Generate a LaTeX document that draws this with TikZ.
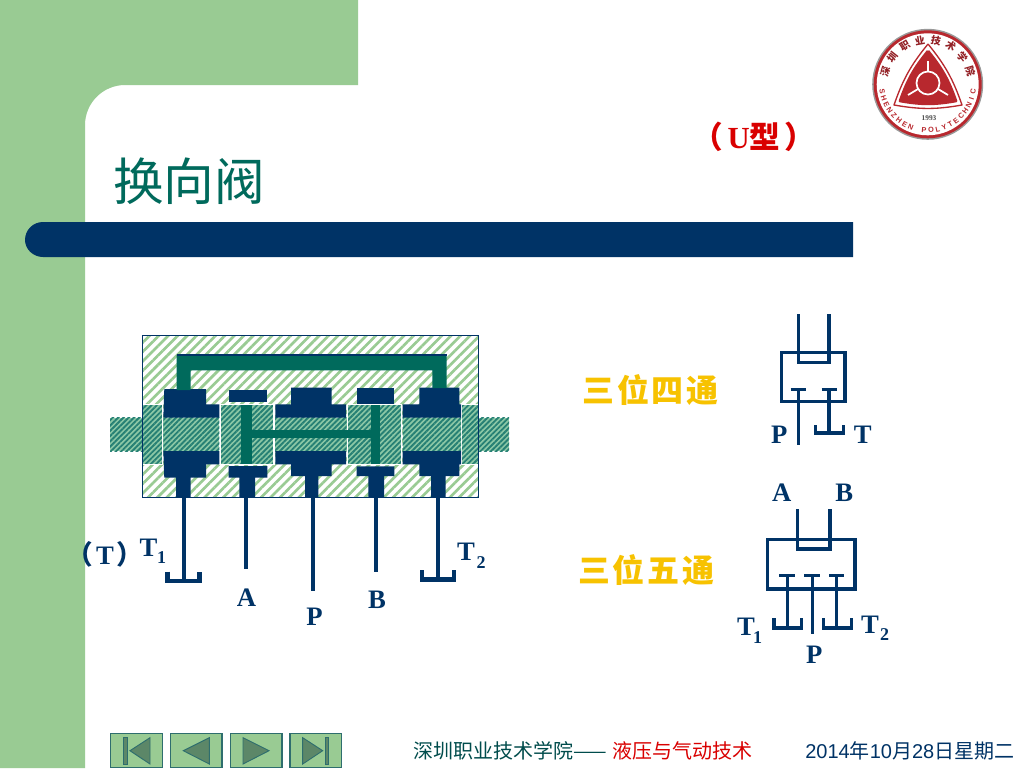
\documentclass[tikz,border=0pt]{standalone}
\usepackage{fontspec}
\setmainfont{Liberation Serif}
\newfontfamily\cjk{Noto Sans CJK SC}
\newfontfamily\arialfont{Liberation Sans}
\usetikzlibrary{calc}
\usetikzlibrary{patterns.meta}
\definecolor{slidegreen}{HTML}{99CB93}
\definecolor{navy}{HTML}{003366}
\definecolor{oilteal}{HTML}{006A5C}
\definecolor{spoolbase}{HTML}{8CC8A6}
\definecolor{goldtext}{HTML}{F7C200}
\definecolor{logored}{HTML}{B8282E}
\definecolor{navborder}{HTML}{2E6E6E}
\definecolor{navfill}{HTML}{5C8768}
\tikzset{
    bodyhatch/.style={pattern={Lines[angle=45,distance=5pt,line width=2pt]},pattern color=slidegreen},
    landhatch/.style={preaction={fill=spoolbase},pattern={Lines[angle=45,distance=2.8pt,line width=1.4pt]},pattern color=oilteal!85!white},
    chamber/.style={fill=navy,draw=none},
    oil/.style={fill=oilteal,draw=none},
    pipe/.style={draw=navy,line width=3.2pt},
    symb/.style={draw=navy,line width=2.6pt},
    lab/.style={text=navy,font=\fontsize{20}{21}\selectfont\bfseries,inner sep=0pt},
    sublab/.style={text=navy,font=\fontsize{13.5}{14}\selectfont\bfseries,inner sep=0pt},
    gold/.style={text=goldtext,font=\fontsize{24}{26}\selectfont\cjk\bfseries,inner sep=0pt},
    navbtn/.style={fill=slidegreen,draw=navborder,line width=1pt},
    navmark/.style={fill=navfill,draw=navborder,line width=.7pt},
}
\begin{document}
\begin{tikzpicture}[x=0.75pt,y=-0.75pt]
    \useasboundingbox (0,0) rectangle (1024,768);
    \fill[white] (0,0) rectangle (1024,768);

    %% slide background
    \fill[slidegreen] (0,0) -- (358,0) -- (358,85) -- (125,85) .. controls (103,85) and (85,103) .. (85,125) -- (85,768) -- (0,768) -- cycle;
    \fill[navy] (853,222) -- (853,257) -- (43,257) .. controls (33,257) and (25,249) .. (25,240) .. controls (25,230) and (33,222) .. (43,222) -- cycle;
    \node[text=oilteal,font=\fontsize{38}{40}\selectfont\cjk,inner sep=0pt] (title) at (189,181) {换向阀};
    \node[text=red!85!black,font=\fontsize{23}{24}\selectfont\bfseries,inner sep=0pt] (utype) at (754,137) {{\cjk （}\hspace{3pt}U{\cjk\bfseries 型}\hspace{3pt}{\cjk ）}};

    %% logo
    \coordinate (logo) at (927.7,84.3);
    \fill[black!40] (logo) circle[radius=55.5];
    \fill[logored] (logo) circle[radius=54];
    \fill[white] (logo) circle[radius=51];
    \coordinate (rt) at (928,44);
    \coordinate (rl) at (894,105);
    \coordinate (rr) at (962,105);
    \draw[logored,line width=1pt,line join=round] (rt) to[bend left=10] (rr) to[bend left=10] (rl) to[bend left=10] (rt);
    \coordinate (it) at (928,51);
    \coordinate (il) at (900,101);
    \coordinate (ir) at (956,101);
    \fill[logored,draw=logored,line width=2pt,line join=round] (it) to[bend left=10] (ir) to[bend left=10] (il) to[bend left=10] (it);
    \draw[white,line width=1.3pt] (928,83) circle[radius=11.5];
    \draw[white,line width=1.3pt] (928,71.5) -- (928,61);
    \draw[white,line width=1.3pt] (918,89) -- (908,95);
    \draw[white,line width=1.3pt] (938,89) -- (948,95);
    \foreach \ch [count=\i] in {深,圳,职,业,技,术,学,院} {
        \pgfmathsetmacro{\ang}{163-(\i-1)*20.9}
        \node[text=logored!80!black,font=\fontsize{7.5}{8}\selectfont\cjk\bfseries,inner sep=0pt,rotate=\ang-90] (cn\i) at ($(logo)+({44.5*cos(\ang)},{-44.5*sin(\ang)})$) {\ch};
    }
    \foreach \ch [count=\i] in {S,H,E,N,Z,H,E,N,{},P,O,L,Y,T,E,C,H,N,I,C} {
        \pgfmathsetmacro{\ang}{189+(\i-1)*8.5}
        \node[text=logored,font=\fontsize{5.5}{6}\selectfont\arialfont\bfseries,inner sep=0pt,rotate=\ang-270] (en\i) at ($(logo)+({46*cos(\ang)},{-46*sin(\ang)})$) {\ch};
    }
    \node[text=black!70,font=\fontsize{5.5}{6}\selectfont\bfseries,inner sep=0pt] (year) at (929,118.5) {1993};

    %% valve body
    \path[fill=white,bodyhatch] (142.3,335.7) rectangle (478.3,497.3);

    %% spool
    \path[landhatch] (142.3,404.3) rectangle (162.7,464.3);
    \path[landhatch] (220,404.3) rectangle (274,464.3);
    \path[landhatch] (347.3,404.3) rectangle (401.7,464.3);
    \path[landhatch] (461.5,404.3) rectangle (478.3,464.3);
    \draw[white,line width=.8pt] (142.3,404.3) rectangle (162.7,464.3);
    \draw[white,line width=.8pt] (220,404.3) rectangle (274,464.3);
    \draw[white,line width=.8pt] (347.3,404.3) rectangle (401.7,464.3);
    \draw[white,line width=.8pt] (461.5,404.3) rectangle (478.3,464.3);
    \path[landhatch] (110,417.7) rectangle (142.3,451);
    \path[landhatch] (163.3,417.7) rectangle (219.3,451);
    \path[landhatch] (275,417.7) rectangle (346.5,451);
    \path[landhatch] (402.5,417.7) rectangle (461,451);
    \path[landhatch] (478.3,417.7) rectangle (509,451);

    %% chambers
    \path[chamber] (164.3,389) -- (206,389) -- (206,404.3) -- (219.3,404.3) -- (219.3,417.7) -- (163.3,417.7) -- cycle;
    \path[chamber] (163.3,451) -- (219.3,451) -- (219.3,464.3) -- (206,464.3) -- (206,477.7) -- (190.7,477.7) -- (190.7,497.3) -- (176,497.3) -- (176,477.7) -- (164.3,477.7) -- cycle;
    \path[chamber] (228.7,389.7) rectangle (267.3,402.3);
    \path[chamber] (228.7,466) -- (267.3,466) -- (267.3,477.7) -- (255,477.7) -- (255,497.3) -- (239.3,497.3) -- (239.3,477.7) -- (228.7,477.7) -- cycle;
    \path[chamber] (291,387.7) -- (331.7,387.7) -- (331.7,404.3) -- (346,404.3) -- (346,417.7) -- (275.3,417.7) -- (275.3,404.3) -- (291,404.3) -- cycle;
    \path[chamber] (275.3,451) -- (346,451) -- (346,464.3) -- (331.7,464.3) -- (331.7,476) -- (318.3,476) -- (318.3,497.3) -- (305,497.3) -- (305,476) -- (291,476) -- (291,464.3) -- (275.3,464.3) -- cycle;
    \path[chamber] (356.7,387.7) rectangle (394.3,403.7);
    \path[chamber] (356.7,466.3) -- (394.3,466.3) -- (394.3,476) -- (384,476) -- (384,497.3) -- (368.3,497.3) -- (368.3,476) -- (356.7,476) -- cycle;
    \path[chamber] (419.3,387.7) -- (459.3,387.7) -- (459.3,404.3) -- (461,404.3) -- (461,417.7) -- (402.7,417.7) -- (402.7,404.3) -- (419.3,404.3) -- cycle;
    \path[chamber] (402.7,451) -- (461,451) -- (461,464.3) -- (459.3,464.3) -- (459.3,476) -- (445.7,476) -- (445.7,497.3) -- (431,497.3) -- (431,476) -- (419.3,476) -- (419.3,464.3) -- (402.7,464.3) -- cycle;

    %% oil channels
    \path[oil] (176.7,355) -- (446.7,355) -- (446.7,388) -- (432.3,388) -- (432.3,370.3) -- (190.7,370.3) -- (190.7,390) -- (176.7,390) -- cycle;
    \draw[navy,line width=1pt] (176.7,355) -- (446.7,355);
    \path[oil] (241.3,404.8) rectangle (251.7,463.8);
    \path[oil] (371,404.8) rectangle (380,463.8);
    \path[oil] (251,430.3) rectangle (371.5,438.3);
    \draw[navy,line width=1pt] (142.3,335.7) rectangle (478.3,497.3);

    %% ports
    \coordinate (pt1) at (183.7,497);
    \coordinate (pa) at (246,497);
    \coordinate (pp) at (312.7,497);
    \coordinate (pb) at (375.7,497);
    \coordinate (pt2) at (438.3,497);
    \draw[pipe] (pt1) -- (183.7,581);
    \draw[pipe,line join=miter] (167.5,571.7) -- (167.5,581) -- (199.5,581) -- (199.5,571.7);
    \draw[pipe] (pa) -- (246,569.3);
    \draw[pipe] (pp) -- (312.7,590.7);
    \draw[pipe] (pb) -- (375.7,572);
    \draw[pipe] (pt2) -- (438.3,579.5);
    \draw[pipe,line join=miter] (422.2,570) -- (422.2,579.5) -- (454.2,579.5) -- (454.2,570);

    \node[lab] (tpar) at (105,554) {{\cjk （}\hspace{2pt}T\hspace{2pt}{\cjk ）}};
    \node[lab] (t1a) at (148.5,548) {T};
    \node[sublab] (t1asub) at (161.5,558) {1};
    \node[lab] (la) at (246.5,598) {A};
    \node[lab] (lp) at (314.5,617) {P};
    \node[lab] (lb) at (377,600) {B};
    \node[lab] (t2a) at (466,552) {T};
    \node[sublab] (t2asub) at (481,563) {2};

    %% four way symbol
    \node[gold] (fourway) at (650.5,390) {三\hspace{2pt}位\hspace{2pt}四\hspace{2pt}通};
    \draw[symb] (781.7,352.3) rectangle (845,401.7);
    \draw[symb,line join=miter] (798.3,314.3) -- (798.3,362.3) -- (829,362.3) -- (829,314.3);
    \draw[symb] (790.7,389.7) -- (806,389.7);
    \draw[symb] (798.3,389.7) -- (798.3,445);
    \draw[symb] (821.7,389.7) -- (836.7,389.7);
    \draw[symb] (829,389.7) -- (829,433);
    \draw[symb,line join=miter] (815.6,425) -- (815.6,433) -- (843.7,433) -- (843.7,425);
    \node[lab] (lp4) at (779.3,435) {P};
    \node[lab] (lt4) at (862.7,435) {T};

    %% five way symbol
    \node[gold] (fiveway) at (646,570) {三\hspace{2pt}位\hspace{2pt}五\hspace{2pt}通};
    \draw[symb] (767.3,539.7) rectangle (855,589);
    \draw[symb,line join=miter] (797.7,509) -- (797.7,549) -- (830,549) -- (830,509);
    \draw[symb] (779.3,575.5) -- (795,575.5);
    \draw[symb] (787.3,575.5) -- (787.3,628);
    \draw[symb,line join=miter] (774,618.3) -- (774,628) -- (801.4,628) -- (801.4,618.3);
    \draw[symb] (804.3,575.7) -- (820,575.7);
    \draw[symb] (812.3,575.7) -- (812.3,634.3);
    \draw[symb] (829.3,575.5) -- (844,575.5);
    \draw[symb] (836.7,575.5) -- (836.7,628);
    \draw[symb,line join=miter] (823.6,618.3) -- (823.6,628) -- (851.4,628) -- (851.4,618.3);
    \node[lab] (la5) at (781.7,493) {A};
    \node[lab] (lb5) at (844.3,493) {B};
    \node[lab] (t1b) at (746,627) {T};
    \node[sublab] (t1bsub) at (757.5,638) {1};
    \node[lab] (t2b) at (870,625) {T};
    \node[sublab] (t2bsub) at (884.5,635) {2};
    \node[lab] (lp5) at (814.3,655) {P};

    %% navigation buttons
    \draw[navbtn] (110.3,733.7) rectangle (162.3,767.5);
    \draw[navmark] (123.3,737.7) rectangle (127,764);
    \draw[navmark] (130,750.7) -- (150,737.7) -- (150,764) -- cycle;
    \draw[navbtn] (170.3,733.7) rectangle (222,767.5);
    \draw[navmark] (183.3,750.7) -- (209.3,737.7) -- (209.3,764) -- cycle;
    \draw[navbtn] (230.3,733.7) rectangle (282,767.5);
    \draw[navmark] (269,750.7) -- (243,737.7) -- (243,764) -- cycle;
    \draw[navbtn] (290,733.7) rectangle (341.7,767.5);
    \draw[navmark] (322.7,750.7) -- (302.7,737.7) -- (302.7,764) -- cycle;
    \draw[navmark] (325,737.7) rectangle (328.7,764);

    %% footer
    \node[anchor=west,inner sep=0pt,font=\fontsize{15}{16}\selectfont\cjk,text=teal!60!black] (foot) at (413,751) {深圳职业技术学院——\hspace{4.5pt}\textcolor{red!85!black}{液压与气动技术}};
    \node[anchor=west,inner sep=0pt,font=\fontsize{15}{16}\selectfont\arialfont,text=navy] (date) at (805,751) {2014{\cjk 年}10{\cjk 月}28{\cjk 日星期二}};
\end{tikzpicture}
\end{document}
